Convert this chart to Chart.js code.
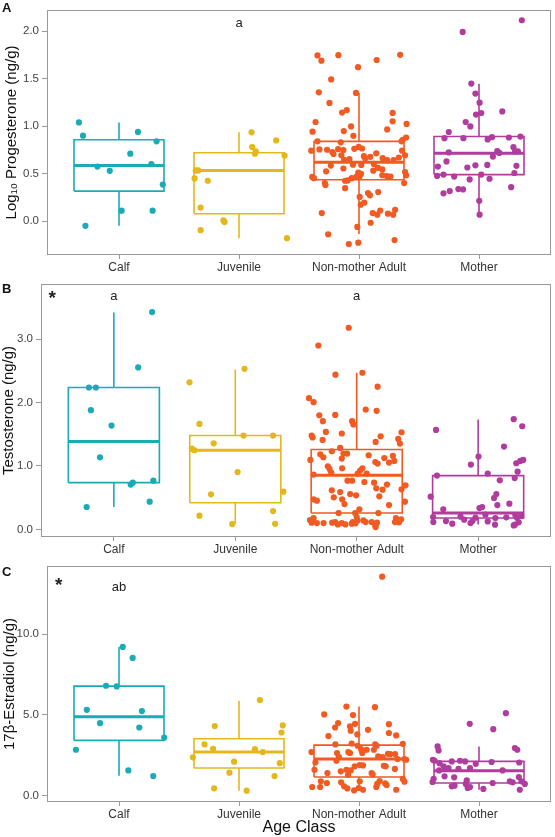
<!DOCTYPE html>
<html>
<head>
<meta charset="utf-8">
<script src="https://cdn.jsdelivr.net/npm/chart.js@4.4.0/dist/chart.umd.min.js"></script>
<style>
body { margin: 0; background: #fff; width: 555px; height: 837px; position: relative; overflow: hidden; font-family: "Liberation Sans", Arial, sans-serif; }
.panel { position: absolute; left: 0; width: 555px; }
.tag { position: absolute; left: 2px; font-weight: bold; font-size: 13px; color: #111; line-height: 13px; }
</style>
</head>
<body>
<div class="panel" style="top:0;height:272px"><canvas id="cA"></canvas></div>
<div class="panel" style="top:270px;height:292px"><canvas id="cB"></canvas></div>
<div class="panel" style="top:552px;height:285px"><canvas id="cC"></canvas></div>
<div class="tag" style="top:1px">A</div>
<div class="tag" style="top:282px">B</div>
<div class="tag" style="top:565px">C</div>
<script>
var categories = ['Calf', 'Juvenile', 'Non-mother Adult', 'Mother'];
var colors = ['#1AABB6', '#E4B71C', '#F15A22', '#B03C9E'];

// A: log10 progesterone
var progQ1 = [0.316, 0.078, 0.435, 0.49];
var progMedian = [0.585, 0.533, 0.619, 0.714];
var progQ3 = [0.857, 0.72, 0.84, 0.891];
var progLow = [-0.05, -0.18, -0.136, 0.051];
var progHigh = [1.04, 0.935, 1.35, 1.446];
var progTicks = [0, 0.5, 1, 1.5, 2];
// points: [jitter offset, value]
var progCalf = [[-0.334,1.04],[-0.30,0.90],[0.158,0.94],[0.313,0.84],[0.094,0.71],[-0.18,0.575],[-0.077,0.53],[0.27,0.60],[0.365,0.385],[0.022,0.11],[0.28,0.11],[-0.28,-0.05]];
var progJuvenile = [[0.105,0.935],[0.11,0.78],[0.14,0.735],[0.133,0.71],[0.31,0.85],[-0.36,0.534],[-0.34,0.534],[-0.37,0.45],[-0.26,0.425],[-0.32,0.143],[-0.13,0.007],[-0.12,-0.01],[-0.32,-0.095],[0.38,0.69],[0.40,-0.18]];
var progNonMother = [[-0.346,1.745],[-0.313,1.69],[-0.172,1.748],[-0.008,1.622],[0.147,1.697],[0.343,1.752],[-0.232,1.493],[-0.335,1.357],[-0.025,1.35],[-0.246,1.245],[-0.141,1.143],[-0.102,1.17],[0.28,1.14],[0.28,1.051],[-0.362,1.044],[0.396,1.024],[-0.387,0.942],[-0.127,0.949],[-0.066,0.997],[0.235,0.966],[-0.047,0.898],[-0.346,0.84],[-0.152,0.83],[0.365,0.857],[0.393,0.881],[0.354,0.84],[-0.398,0.742],[-0.33,0.755],[-0.266,0.752],[-0.222,0.728],[-0.213,0.707],[-0.174,0.758],[-0.13,0.748],[-0.039,0.762],[-0.003,0.782],[0.025,0.765],[0.144,0.714],[0.359,0.742],[0.384,0.694],[-0.147,0.694],[-0.124,0.646],[-0.08,0.653],[0.041,0.684],[0.052,0.66],[0.094,0.677],[0.197,0.663],[0.235,0.643],[0.288,0.643],[0.332,0.67],[-0.235,0.585],[-0.13,0.554],[-0.05,0.595],[0.019,0.592],[0.124,0.602],[0.158,0.561],[0.194,0.544],[-0.274,0.524],[-0.006,0.51],[0.017,0.497],[0.119,0.531],[0.194,0.483],[0.232,0.473],[0.263,0.469],[0.384,0.517],[0.393,0.483],[-0.39,0.466],[-0.376,0.452],[-0.285,0.401],[-0.28,0.381],[-0.116,0.425],[-0.094,0.429],[-0.061,0.452],[-0.022,0.466],[0.003,0.466],[0.376,0.401],[-0.116,0.347],[0.006,0.255],[0.075,0.296],[0.091,0.272],[0.16,0.306],[0.014,0.173],[0.044,0.194],[0.114,0.085],[0.152,0.068],[0.177,0.112],[0.241,0.078],[0.285,0.068],[0.301,0.119],[-0.31,0.085],[0.097,-0.017],[-0.014,-0.061],[-0.257,-0.139],[-0.085,-0.241],[-0.006,-0.227],[0.296,-0.2]];
var progMother = [[0.357,2.116],[-0.136,1.993],[-0.064,1.449],[-0.03,1.344],[0.005,1.248],[-0.025,1.122],[0.019,1.139],[0.194,1.156],[-0.111,1.044],[-0.072,0.997],[-0.252,0.939],[-0.288,0.874],[-0.13,0.874],[0.072,0.86],[0.108,0.884],[0.249,0.881],[0.345,0.891],[-0.252,0.724],[0.116,0.68],[0.152,0.738],[0.169,0.718],[0.287,0.779],[0.301,0.735],[0.324,0.735],[-0.271,0.629],[-0.097,0.565],[-0.03,0.588],[0.069,0.592],[0.312,0.582],[-0.343,0.575],[-0.349,0.476],[-0.296,0.49],[-0.207,0.469],[-0.078,0.439],[0.019,0.49],[0.088,0.446],[0.295,0.507],[-0.296,0.293],[-0.244,0.316],[-0.172,0.337],[-0.133,0.334],[0.268,0.357],[0.002,0.214],[0.005,0.068]];

// B: testosterone
var testQ1 = [0.737, 0.421, 0.258, 0.18];
var testMedian = [1.385, 1.248, 0.853, 0.26];
var testQ3 = [2.238, 1.48, 1.259, 0.848];
var testLow = [0.353, 0.09, 0.063, 0.079];
var testHigh = [3.42, 2.52, 2.47, 1.733];
var testTicks = [0, 1, 2, 3];
var testCalf = [[0.315,3.428],[0.2,2.554],[-0.205,2.238],[-0.148,2.238],[-0.189,1.88],[-0.019,1.638],[-0.114,1.137],[0.139,0.706],[0.156,0.737],[0.325,0.769],[0.295,0.437],[-0.224,0.353]];
var testJuvenile = [[-0.377,2.32],[0.076,2.533],[-0.295,1.663],[-0.178,1.358],[-0.358,1.274],[-0.336,1.248],[0.068,1.48],[0.311,1.48],[0.019,0.905],[-0.2,0.553],[-0.295,0.216],[-0.025,0.084],[0.311,0.289],[0.328,0.089],[0.396,0.595]];
var testNonMother = [[-0.066,3.18],[-0.316,2.9],[-0.175,2.44],[0.047,2.47],[0.172,2.25],[-0.393,2.07],[-0.355,2.006],[0.074,1.89],[0.164,1.87],[-0.177,1.806],[-0.308,1.8],[-0.279,1.706],[-0.038,1.706],[-0.027,1.654],[-0.254,1.537],[-0.123,1.512],[-0.371,1.48],[-0.363,1.449],[-0.281,1.411],[0.197,1.469],[0.156,1.379],[0.369,1.532],[0.342,1.427],[0.356,1.354],[-0.136,1.284],[-0.205,1.232],[-0.3,1.185],[-0.275,1.137],[-0.109,1.196],[-0.079,1.196],[-0.123,1.117],[0.098,1.169],[0.153,1.063],[0.172,1.038],[0.227,1.126],[0.266,1.054],[0.298,1.158],[0.309,1.079],[-0.382,1.095],[-0.238,0.995],[-0.224,0.953],[-0.12,0.964],[0.047,0.964],[0.028,0.927],[0.082,0.88],[-0.21,0.896],[0.008,0.88],[-0.355,0.864],[-0.076,0.769],[-0.038,0.769],[0.063,0.747],[0.143,0.737],[0.249,0.706],[0.161,0.648],[0.213,0.627],[0.369,0.632],[0.402,0.695],[-0.205,0.616],[-0.136,0.59],[-0.189,0.506],[-0.12,0.474],[-0.054,0.558],[-0.005,0.537],[-0.355,0.474],[-0.328,0.453],[-0.101,0.4],[0.186,0.521],[0.266,0.384],[0.397,0.437],[-0.15,0.258],[0.022,0.316],[0.178,0.258],[-0.013,0.258],[0,0.195],[0.006,0.142],[-0.033,0.116],[-0.011,0.095],[-0.041,0.09],[-0.385,0.147],[-0.371,0.106],[-0.328,0.1],[-0.273,0.1],[-0.177,0.116],[-0.156,0.079],[-0.123,0.1],[-0.093,0.079],[0.055,0.142],[0.074,0.116],[0.123,0.116],[0.153,0.063],[0.167,0.106],[0.323,0.179],[0.348,0.111],[0.366,0.158],[0.315,0.116],[-0.355,0.179],[-0.202,0.106],[0.156,0.036]];
var testMother = [[0.293,1.738],[0.363,1.627],[-0.347,1.569],[0.213,1.306],[0.003,1.148],[-0.06,1.022],[0.314,1.043],[0.347,1.079],[0.371,1.095],[0.325,0.911],[0.079,0.88],[-0.339,0.848],[0.301,0.81],[0.178,0.774],[-0.391,0.516],[0.15,0.558],[0.131,0.495],[0.158,0.384],[0.257,0.406],[-0.287,0.316],[0.011,0.336],[0.033,0.352],[-0.371,0.194],[-0.369,0.115],[-0.265,0.131],[-0.213,0.09],[-0.145,0.2],[-0.115,0.153],[-0.063,0.1],[-0.047,0.131],[-0.022,0.185],[0.06,0.232],[0.079,0.126],[0.139,0.074],[0.142,0.179],[0.232,0.19],[0.306,0.226],[0.32,0.185],[0.334,0.111],[0.303,0.074],[0.293,0.063],[0.355,0.21]];

// C: 17beta-estradiol
var estrQ1 = [3.41, 1.7, 1.14, 0.77];
var estrMedian = [4.88, 2.69, 2.25, 1.53];
var estrQ3 = [6.78, 3.51, 3.12, 2.11];
var estrLow = [1.22, 0.29, 0.31, 0.35];
var estrHigh = [9.21, 5.87, 5.51, 3.04];
var estrTicks = [0, 5, 10];
var estrCalf = [[0.031,9.21],[0.114,8.53],[-0.108,6.8],[-0.019,6.76],[-0.268,5.31],[0.191,5.23],[-0.158,4.48],[0.169,4.21],[0.377,3.59],[-0.359,2.83],[0.078,1.55],[0.285,1.2]];
var estrJuvenile = [[0.174,5.91],[-0.202,4.3],[-0.287,3.16],[-0.216,2.89],[-0.384,2.36],[0.133,2.87],[0.199,2.69],[-0.041,2.09],[-0.08,1.41],[0.296,1.2],[-0.207,0.44],[0.064,0.29],[0.365,4.34],[0.354,3.9],[0.34,2.0]];
var estrNonMother = [[0.193,13.57],[-0.105,5.51],[0.133,5.47],[-0.29,5.02],[-0.05,4.98],[-0.174,4.49],[-0.199,4.21],[-0.075,4.28],[-0.033,4.44],[-0.069,4.01],[0.075,4.07],[0.249,4.42],[-0.255,3.68],[-0.014,3.78],[0.249,3.87],[0.31,3.72],[-0.396,2.69],[-0.197,3.16],[-0.061,3.22],[-0.011,3.08],[0.017,2.87],[0.135,3.16],[0.147,3.08],[0.365,3.2],[-0.183,2.63],[-0.168,2.38],[-0.188,2.15],[-0.089,2.69],[-0.075,2.63],[0.027,2.63],[0.064,2.83],[0.124,2.83],[0.16,2.42],[0.197,2.38],[0.241,2.58],[0.26,2.56],[0.301,2.56],[0.321,2.25],[0.379,2.25],[0.393,2.21],[-0.363,2.04],[-0.371,1.59],[-0.263,1.39],[-0.152,1.49],[-0.105,1.59],[-0.091,1.28],[-0.069,1.55],[-0.036,1.8],[0.006,1.88],[0.033,1.86],[0.105,1.39],[0.114,1.3],[0.207,1.84],[0.222,1.8],[0.299,1.64],[-0.318,0.87],[-0.268,0.77],[-0.39,0.52],[-0.324,0.52],[-0.149,0.81],[-0.124,0.56],[-0.097,0.43],[-0.041,0.31],[-0.002,0.46],[0.006,0.87],[0.033,0.35],[0.144,0.52],[0.152,0.71],[0.172,0.89],[0.218,0.74],[0.23,0.64],[0.31,0.35],[0.365,1.02],[0.379,0.85]];
var estrMother = [[0.224,5.1],[-0.077,4.44],[0.119,4.11],[-0.345,3.04],[-0.337,2.79],[0.299,2.94],[0.319,2.83],[-0.384,2.21],[-0.37,2.15],[-0.329,2.0],[-0.227,2.11],[-0.158,2.15],[-0.116,2.11],[-0.027,1.96],[0.105,2.07],[0.335,2.04],[-0.295,1.8],[-0.282,1.64],[-0.254,1.7],[-0.332,1.55],[-0.171,1.64],[-0.075,1.7],[0.197,1.55],[-0.287,1.18],[-0.207,1.12],[-0.378,1.03],[-0.387,0.83],[-0.227,0.56],[-0.204,0.6],[-0.102,0.93],[-0.11,0.71],[-0.075,0.52],[-0.094,0.46],[0.036,0.4],[0.114,0.77],[0.257,0.87],[0.28,0.81],[0.332,1.14],[0.354,0.87],[0.382,0.71],[0.34,0.35]];

var frame = {
  id: 'frame',
  afterDatasetsDraw: function(chart) {
    var a = chart.chartArea, ctx = chart.ctx;
    ctx.save();
    ctx.strokeStyle = '#999';
    ctx.lineWidth = 1;
    ctx.strokeRect(Math.round(a.left) + 0.5, Math.round(a.top) + 0.5, Math.round(a.right - a.left) - 1, Math.round(a.bottom - a.top) - 1);
    ctx.restore();
  }
};

var notes = {
  id: 'notes',
  afterDatasetsDraw: function(chart, args, opts) {
    var ctx = chart.ctx;
    ctx.save();
    ctx.fillStyle = '#222';
    ctx.textAlign = 'center';
    ctx.textBaseline = 'middle';
    (opts.items || []).forEach(function(it) {
      ctx.font = it.font;
      ctx.fillText(it.text, chart.scales.x.getPixelForValue(it.x), chart.scales.y.getPixelForValue(it.y));
    });
    ctx.restore();
  }
};

function makePanel(id, c) {
  var ds = [];
  var w = 0.375;
  c.points.forEach(function(pts, i) {
    ds.push({
      data: pts.map(function(p) { return {x: i + 1 + p[0], y: p[1]}; }),
      backgroundColor: colors[i], borderWidth: 0, pointRadius: 3.1, order: 0
    });
  });
  for (var i = 0; i < 4; i++) {
    var x = i + 1;
    var line = {showLine: true, pointRadius: 0, borderColor: colors[i], borderWidth: 1.6, fill: false, order: 1, borderJoinStyle: 'miter'};
    ds.push(Object.assign({}, line, {data: [{x: x - w, y: c.q1[i]}, {x: x + w, y: c.q1[i]}, {x: x + w, y: c.q3[i]}, {x: x - w, y: c.q3[i]}, {x: x - w, y: c.q1[i]}]}));
    ds.push(Object.assign({}, line, {borderWidth: 3, data: [{x: x - w, y: c.med[i]}, {x: x + w, y: c.med[i]}]}));
    ds.push(Object.assign({}, line, {data: [{x: x, y: c.q3[i]}, {x: x, y: c.hi[i]}]}));
    ds.push(Object.assign({}, line, {data: [{x: x, y: c.q1[i]}, {x: x, y: c.lo[i]}]}));
  }
  new Chart(document.getElementById(id), {
    type: 'scatter',
    data: {datasets: ds},
    plugins: [frame, notes],
    options: {
      responsive: true,
      maintainAspectRatio: false,
      animation: false,
      events: [],
      layout: {padding: {top: c.top, right: 555 - c.right, left: 0, bottom: 0}},
      plugins: {legend: {display: false}, tooltip: {enabled: false}, notes: {items: c.notes}},
      scales: {
        x: {
          type: 'linear', min: 0.4, max: 4.6,
          afterBuildTicks: function(s) { s.ticks = [1, 2, 3, 4].map(function(v) { return {value: v}; }); },
          afterFit: function(s) { s.height = c.xh; },
          ticks: {callback: function(v) { return categories[v - 1]; }, font: {size: 12, family: 'Liberation Sans'}, color: '#333', padding: 1, maxRotation: 0, autoSkip: false},
          grid: {drawOnChartArea: false, drawTicks: true, tickLength: 4, color: '#999'},
          border: {display: false},
          title: c.xTitle ? {display: true, text: c.xTitle, font: {size: 16, family: 'Liberation Sans'}, color: '#111', padding: 0} : {display: false}
        },
        y: {
          min: c.min, max: c.max,
          afterBuildTicks: function(s) { s.ticks = c.ticks.map(function(v) { return {value: v}; }); },
          afterFit: function(s) { s.width = c.left; },
          ticks: {callback: function(v) { return v.toFixed(1); }, font: {size: 11.5, family: 'Liberation Sans'}, color: '#444', padding: 3},
          grid: {drawOnChartArea: false, drawTicks: true, tickLength: 5, color: '#999'},
          border: {display: false},
          title: {display: true, text: c.yTitle, font: {size: 15, family: 'Liberation Sans'}, color: '#111', padding: {top: c.tpad, bottom: 0}}
        }
      }
    }
  });
}

makePanel('cA', {
  q1: progQ1, med: progMedian, q3: progQ3, lo: progLow, hi: progHigh,
  points: [progCalf, progJuvenile, progNonMother, progMother],
  min: -0.357, max: 2.225, ticks: progTicks,
  top: 2, right: 553, left: 47, xh: 272 - 255,
  yTitle: 'Log\u2081\u2080 Progesterone (ng/g)', tpad: 3,
  notes: [{x: 2, y: 2.08, text: 'a', font: '13px "Liberation Sans"'}]
});

makePanel('cB', {
  q1: testQ1, med: testMedian, q3: testQ3, lo: testLow, hi: testHigh,
  points: [testCalf, testJuvenile, testNonMother, testMother],
  min: -0.12, max: 3.87, ticks: testTicks,
  top: 14, right: 553, left: 41, xh: 292 - 267,
  yTitle: 'Testosterone (ng/g)', tpad: 0,
  notes: [
    {x: 0.493, y: 3.63, text: '*', font: 'bold 19px "Liberation Sans"'},
    {x: 1, y: 3.68, text: 'a', font: '13px "Liberation Sans"'},
    {x: 3, y: 3.68, text: 'a', font: '13px "Liberation Sans"'}
  ]
});

makePanel('cC', {
  q1: estrQ1, med: estrMedian, q3: estrQ3, lo: estrLow, hi: estrHigh,
  points: [estrCalf, estrJuvenile, estrNonMother, estrMother],
  min: -0.41, max: 14.23, ticks: estrTicks,
  top: 14, right: 553.5, left: 47, xh: 285 - 250,
  yTitle: '17\u03b2-Estradiol (ng/g)', tpad: 1, xTitle: 'Age Class',
  notes: [
    {x: 0.497, y: 13.0, text: '*', font: 'bold 19px "Liberation Sans"'},
    {x: 1, y: 12.93, text: 'ab', font: '13px "Liberation Sans"'}
  ]
});
</script>
</body>
</html>
